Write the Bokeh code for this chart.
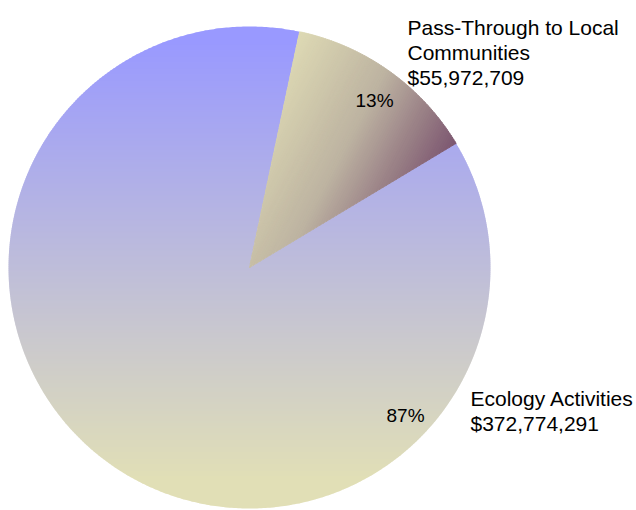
import textwrap
import numpy as np
from bokeh.plotting import figure
from bokeh.models import Range1d
from bokeh.core.properties import value
from bokeh.embed import file_html
from bokeh.resources import INLINE

# ---- data ----
categories = ["Pass-Through to Local Communities", "Ecology Activities"]
amounts = [55972709, 372774291]

# ---- layout / style ----
W, H = 636, 510
CX, CY, R = 249, 267, 241          # pie centre and radius (px, y down)
START_DEG = 12                      # first slice starts 12 deg clockwise from 12 o'clock
FONT = value("Liberation Sans")

# gradient specs per category: (a, b, offset_x, offset_y, stops) ; t = a*(x-ox) + b*(y-oy)
GRADS = [
    (0.00459, 0.002426, 298, 30,
     [(0.0, "#dedab4"), (0.5, "#bdb3a1"), (1.0, "#7c5670")]),
    (0.0, 1.0, 0, 0,
     [(40.0, "#9999ff"), (480.0, "#e1dfb6")]),
]
LABEL_POS = [(407, 27), (470, 398)]
PCT_POS = [(355, 100), (386, 415)]
LINE_STEP = 25


def hex2rgb(h):
    h = h.lstrip("#")
    return np.array([int(h[i:i + 2], 16) for i in (0, 2, 4)], dtype=float)


def interp(t, stops):
    if t <= stops[0][0]:
        c = hex2rgb(stops[0][1])
    elif t >= stops[-1][0]:
        c = hex2rgb(stops[-1][1])
    else:
        for (t0, c0), (t1, c1) in zip(stops[:-1], stops[1:]):
            if t0 <= t <= t1:
                f = (t - t0) / (t1 - t0)
                c = hex2rgb(c0) * (1 - f) + hex2rgb(c1) * f
                break
    return "#%02x%02x%02x" % tuple(int(round(v)) for v in c)


def wedge_poly(t0, t1):
    n = max(8, int(np.degrees(t1 - t0) * 2))
    th = np.linspace(t0, t1, n)
    xs = np.concatenate([[CX], CX + R * np.sin(th)])
    ys = np.concatenate([[CY], CY - R * np.cos(th)])
    return list(zip(xs, ys))


def clip_half(poly, nx, ny, c):
    out = []
    if not poly:
        return out
    prev = poly[-1]
    fp = nx * prev[0] + ny * prev[1] - c
    for cur in poly:
        fc = nx * cur[0] + ny * cur[1] - c
        if fc >= 0:
            if fp < 0:
                t = fp / (fp - fc)
                out.append((prev[0] + t * (cur[0] - prev[0]), prev[1] + t * (cur[1] - prev[1])))
            out.append(cur)
        elif fp >= 0:
            t = fp / (fp - fc)
            out.append((prev[0] + t * (cur[0] - prev[0]), prev[1] + t * (cur[1] - prev[1])))
        prev, fp = cur, fc
    return out


p = figure(width=W, height=H, output_backend="svg", toolbar_location=None,
           x_range=Range1d(0, W), y_range=Range1d(H, 0), min_border=0,
           x_axis_location=None, y_axis_location=None)
p.grid.visible = False
p.outline_line_color = None
p.background_fill_color = "white"
p.border_fill_color = "white"

total = float(sum(amounts))
fracs = [a / total for a in amounts]
start = np.radians(START_DEG)
edges = start + 2 * np.pi * np.concatenate([[0.0], np.cumsum(fracs)])

# draw the big slice first, then the small one on top
order = sorted(range(len(amounts)), key=lambda i: -amounts[i])
for i in order:
    poly = wedge_poly(edges[i], edges[i + 1])
    a, b, ox, oy, stops = GRADS[i]
    norm = np.hypot(a, b)
    tvals = [a * (x - ox) + b * (y - oy) for x, y in poly]
    tmin, tmax = min(tvals), max(tvals)
    step = 2.0 * norm  # ~2 px per band
    nb = int(np.ceil((tmax - tmin) / step))
    bxs, bys, cols = [], [], []
    for k in range(nb):
        lo = tmin + k * step
        hi = lo + step + 0.8 * norm
        q = clip_half(poly, a, b, lo + a * ox + b * oy)
        q = clip_half(q, -a, -b, -(hi + a * ox + b * oy))
        if len(q) < 3:
            continue
        bxs.append([pt[0] for pt in q])
        bys.append([pt[1] for pt in q])
        cols.append(interp(lo + step / 2, stops))
    lw = 0.8 if i != order[0] else 0
    p.patches(xs=bxs, ys=bys, fill_color=cols,
              line_color=cols if lw else None, line_width=lw)

# labels
for i, name in enumerate(categories):
    lines = textwrap.wrap(name, 21) + ["${:,}".format(amounts[i])]
    x0, y0 = LABEL_POS[i]
    p.text(x=[x0] * len(lines), y=[y0 + LINE_STEP * j for j in range(len(lines))],
           text=lines, text_font=FONT, text_font_size="21px", text_color="black",
           text_baseline="alphabetic", text_align="left")
    px, py = PCT_POS[i]
    p.text(x=[px], y=[py], text=["{:.0f}%".format(fracs[i] * 100)],
           text_font=FONT, text_font_size="19px", text_color="black",
           text_baseline="alphabetic", text_align="left")

open("out.html", "w").write(file_html(p, INLINE))
